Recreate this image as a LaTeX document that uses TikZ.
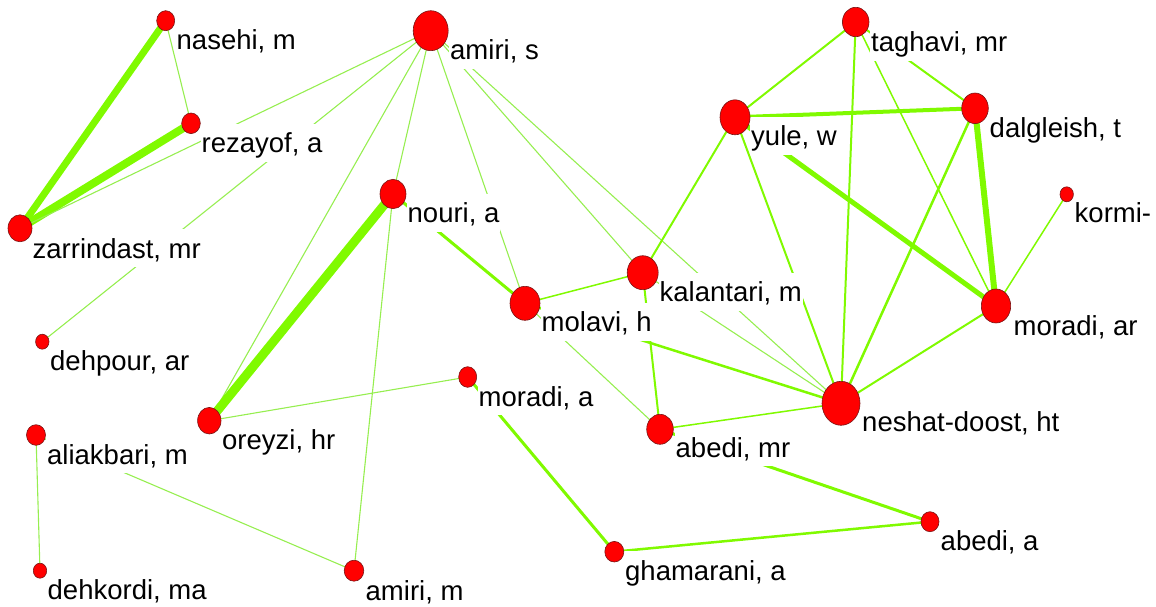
\documentclass[tikz,border=0pt]{standalone}
\usepackage{fontspec}
\setmainfont{Liberation Sans}
\usetikzlibrary{shapes.geometric}
\pgfdeclarelayer{edges}
\pgfdeclarelayer{labels}
\pgfsetlayers{edges,labels,main}
\definecolor{eg}{RGB}{128,250,0}
\definecolor{egl}{RGB}{150,238,80}
\definecolor{nd}{RGB}{255,0,0}
\definecolor{ndb}{RGB}{120,20,20}
\tikzset{
  au/.style={ellipse, fill=nd, draw=ndb, line width=0.6pt, inner sep=0pt},
  lab/.style={anchor=base west, fill=white, inner xsep=1pt, inner ysep=0pt,
     text height=29pt, text depth=9pt, font=\fontsize{27.5}{30}\selectfont},
  ed/.style={draw=eg, line width=#1},
  thin1/.style={draw=egl, line width=1.1pt},
}
\newcommand\au[8]{%
  \node[au, minimum width=#4pt, minimum height=#5pt] (#1) at (#2,#3) {};
  \begin{pgfonlayer}{labels}\node[lab] (#1-l) at (#6,#7) {#8};\end{pgfonlayer}}
\begin{document}
\begin{tikzpicture}[x=1pt,y=-1pt]
\useasboundingbox (0,0) rectangle (1156,607);
\au{nasehi}{165.7}{20.7}{18}{20}{175.5}{50}{nasehi, m}
\au{rezayof}{191}{123.3}{18.6}{20.6}{200.5}{152.7}{rezayof, a}
\au{zarrindast}{20}{228.3}{24}{27}{31.5}{258.3}{zarrindast, mr}
\au{amiris}{430.7}{30.7}{35}{40}{449}{60}{amiri, s}
\au{nouri}{393}{194}{26}{29.4}{406.5}{222.7}{nouri, a}
\au{molavi}{525}{303.3}{30}{34}{540.5}{331.7}{molavi, h}
\au{kalantari}{642.7}{272.7}{31}{34}{658.5}{301.7}{kalantari, m}
\au{yule}{735}{117.3}{30}{35}{750}{145.7}{yule, w}
\au{taghavi}{855.7}{22}{26.6}{29.4}{870}{51.7}{taghavi, mr}
\au{dalgleish}{975}{108.3}{26.6}{30.6}{988.5}{137.3}{dalgleish, t}
\au{kormi}{1066.7}{194.3}{13.4}{15}{1073.5}{222.7}{kormi-}
\au{moradiar}{996}{306}{29.4}{34}{1012.5}{335}{moradi, ar}
\au{neshat}{841}{403.3}{38}{44}{861}{431.7}{neshat-doost, ht}
\au{abedimr}{660}{429.3}{26.6}{30}{674.5}{457.3}{abedi, mr}
\au{abedia}{930}{521.7}{18}{20}{939.5}{550}{abedi, a}
\au{ghamarani}{614.3}{551.7}{19}{20.6}{624}{580}{ghamarani, a}
\au{moradia}{467.7}{377}{18}{20.6}{477.5}{406}{moradi, a}
\au{oreyzi}{209.3}{420.7}{23.4}{26.6}{221}{449}{oreyzi, hr}
\au{amirim}{354}{570.7}{19.6}{21}{364.5}{600}{amiri, m}
\au{dehpour}{42.3}{341.7}{13.4}{15}{49}{370.7}{dehpour, ar}
\au{aliakbari}{36}{435}{19}{20.6}{46}{464}{aliakbari, m}
\au{dehkordi}{40}{570.7}{13.4}{15}{46.5}{599.3}{dehkordi, ma}
\begin{pgfonlayer}{edges}
% left cluster
\draw[ed=7pt] (zarrindast.center) -- (nasehi.center);
\draw[ed=8pt] (zarrindast.center) -- (rezayof.center);
\draw[thin1] (nasehi.center) -- (rezayof.center);
% amiri, s
\draw[thin1] (amiris.center) -- (zarrindast.center);
\draw[thin1] (amiris.center) -- (dehpour.center);
\draw[thin1] (amiris.center) -- (oreyzi.center);
\draw[thin1] (amiris.center) -- (nouri.center);
\draw[thin1] (amiris.center) -- (molavi.center);
\draw[thin1] (amiris.center) -- (kalantari.center);
\draw[thin1] (amiris.center) -- (neshat.center);
% middle
\draw[ed=9pt] (nouri.center) -- (oreyzi.center);
\draw[ed=3pt] (nouri.center) -- (molavi.center);
\draw[thin1] (nouri.center) -- (amirim.center);
\draw[ed=1.5pt] (molavi.center) -- (kalantari.center);
\draw[thin1] (molavi.center) -- (abedimr.center);
\draw[ed=2.5pt] (molavi.center) -- (neshat.center);
\draw[ed=2pt] (kalantari.center) -- (yule.center);
\draw[ed=2pt] (kalantari.center) -- (abedimr.center);
\draw[thin1] (kalantari.center) -- (neshat.center);
\draw[ed=1.5pt] (abedimr.center) -- (neshat.center);
\draw[ed=3pt] (abedimr.center) -- (abedia.center);
\draw[ed=2.5pt] (ghamarani.center) -- (abedia.center);
\draw[ed=3pt] (moradia.center) -- (ghamarani.center);
\draw[thin1] (oreyzi.center) -- (moradia.center);
\draw[thin1] (aliakbari.center) -- (dehkordi.center);
\draw[thin1] (aliakbari.center) -- (amirim.center);
% right cluster
\draw[ed=2pt] (yule.center) -- (taghavi.center);
\draw[ed=4pt] (yule.center) -- (dalgleish.center);
\draw[ed=5pt] (yule.center) -- (moradiar.center);
\draw[ed=2pt] (yule.center) -- (neshat.center);
\draw[ed=2pt] (taghavi.center) -- (neshat.center);
\draw[ed=2pt] (taghavi.center) -- (dalgleish.center);
\draw[ed=1.5pt] (taghavi.center) -- (moradiar.center);
\draw[ed=6pt] (dalgleish.center) -- (moradiar.center);
\draw[ed=2.5pt] (dalgleish.center) -- (neshat.center);
\draw[ed=1.5pt] (kormi.center) -- (moradiar.center);
\draw[ed=2pt] (moradiar.center) -- (neshat.center);
\end{pgfonlayer}
\end{tikzpicture}
\end{document}
